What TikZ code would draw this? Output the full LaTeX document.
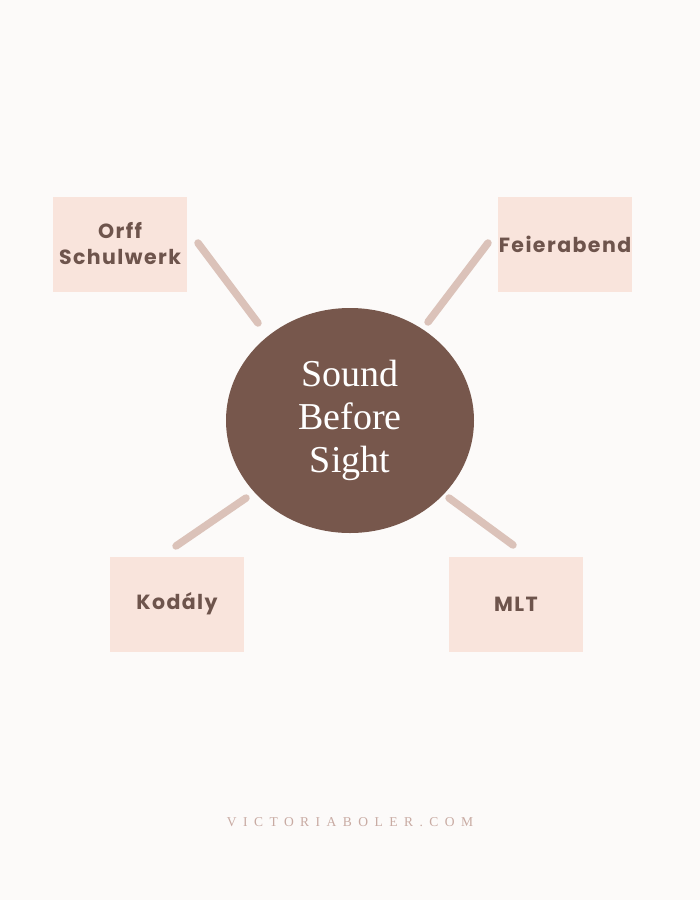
\documentclass[tikz,border=0pt]{standalone}
\usepackage{fontspec}
\usetikzlibrary{shapes.geometric}
\newfontfamily\boxfont[LetterSpace=7]{Poppins}
\newfontfamily\serifmain{Liberation Serif}
\newfontfamily\footfont[LetterSpace=48]{Liberation Serif}
\definecolor{bgc}{HTML}{FCFAF9}
\definecolor{boxc}{HTML}{F9E4DC}
\definecolor{txtc}{HTML}{6E544C}
\definecolor{ellc}{HTML}{77574C}
\definecolor{linec}{HTML}{DBC2B9}
\definecolor{footc}{HTML}{C8AAA2}
\tikzset{
  topic/.style={fill=boxc, minimum width=134pt, minimum height=95pt, inner sep=0pt,
    font=\boxfont\bfseries\fontsize{20.5}{26}\selectfont, text=txtc, align=center},
  spoke/.style={draw=linec, line width=7.5pt, line cap=round},
}
\begin{document}
\begin{tikzpicture}[x=1pt,y=-1pt]
\fill[bgc] (0,0) rectangle (700,900);
\useasboundingbox (0,0) rectangle (700,900);
\node[fill=ellc, ellipse, minimum width=248pt, minimum height=225pt, inner sep=0pt,
  text=white, align=center, font=\serifmain\fontsize{38}{43}\selectfont] (core) at (350,420.5) {Sound\\Before\\Sight};
\node[topic] (orff) at (120,244) {Orff\\Schulwerk};
\node[topic] (feier) at (565,244) {Feierabend};
\node[topic] (koda) at (177,604) {Kodály};
\node[topic] (mlt) at (516,604) {MLT};
\coordinate (o1) at (198,243); \coordinate (o2) at (258,323);
\coordinate (f1) at (488,243); \coordinate (f2) at (428,322);
\coordinate (k1) at (246,498); \coordinate (k2) at (176,546);
\coordinate (m1) at (449,498); \coordinate (m2) at (513,545);
\draw[spoke] (o1) -- (o2);
\draw[spoke] (f1) -- (f2);
\draw[spoke] (k1) -- (k2);
\draw[spoke] (m1) -- (m2);
\node[text=footc, font=\footfont\fontsize{13.5}{15}\selectfont] (foot) at (350,822) {VICTORIABOLER.COM};
\end{tikzpicture}
\end{document}
